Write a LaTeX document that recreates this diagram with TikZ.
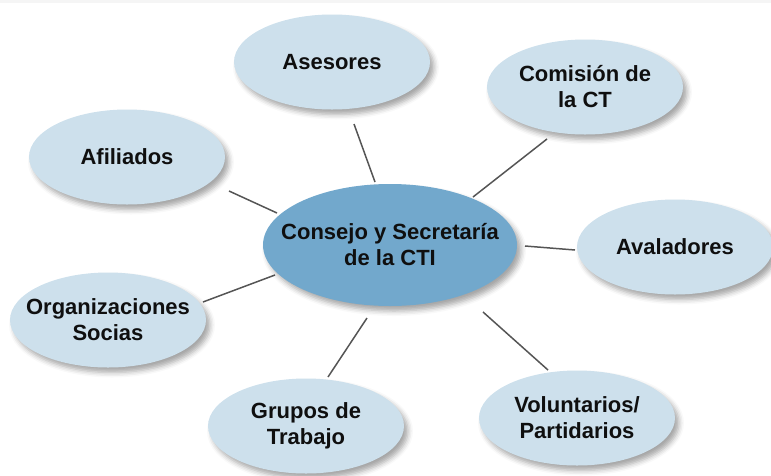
\documentclass[tikz,border=0pt]{standalone}
\usepackage{fontspec}
\setmainfont{Liberation Sans}
\usetikzlibrary{shapes.geometric,shadows.blur,backgrounds}
\definecolor{outerfill}{RGB}{205,224,236}
\definecolor{centerfill}{RGB}{114,168,204}
\definecolor{linegray}{RGB}{85,85,85}
\definecolor{textblack}{RGB}{15,15,15}
\begin{document}
\begin{tikzpicture}[x=1pt,y=-1pt,
  bubble/.style={ellipse, fill=outerfill, minimum width=196pt, minimum height=95pt,
    inner sep=-60pt, align=center, text=textblack,
    font=\fontsize{22}{26}\selectfont\bfseries,
    blur shadow={shadow xshift=4pt, shadow yshift=-5pt, shadow blur radius=5pt, shadow opacity=35}},
  two/.style={yshift=-2pt},
  hub/.style={bubble, fill=centerfill, minimum width=254pt, minimum height=122pt},
  conn/.style={draw=linegray, line width=1.5pt}]
\useasboundingbox (0,0) rectangle (771,475);
\fill[gray!8] (0,0) rectangle (771,3);
\node[hub] (ctr) at (390,245) {Consejo y Secretaría\\de la CTI};
\node[bubble] (ase) at (332,62) {Asesores};
\node[bubble] (com) at (585,87) {Comisión de\\la CT};
\node[bubble] (afi) at (127,157) {Afiliados};
\node[bubble] (ava) at (675,247) {Avaladores};
\node[bubble] (org) at (108,320) {Organizaciones\\Socias};
\node[bubble] (gru) at (306,426) {Grupos de\\Trabajo};
\node[bubble] (vol) at (577,418) {Voluntarios/\\Partidarios};
\begin{scope}[on background layer]
\draw[conn] ([shift={(22,62)}]ase.center) -- ([shift={(-15,-63)}]ctr.center);
\draw[conn] ([shift={(-38,52)}]com.center) -- ([shift={(83,-48)}]ctr.center);
\draw[conn] ([shift={(102,34)}]afi.center) -- ([shift={(-113,-32)}]ctr.center);
\draw[conn] ([shift={(-100,3)}]ava.center) -- ([shift={(135,1)}]ctr.center);
\draw[conn] ([shift={(95,-18)}]org.center) -- ([shift={(-115,30)}]ctr.center);
\draw[conn] ([shift={(22,-49)}]gru.center) -- ([shift={(-23,73)}]ctr.center);
\draw[conn] ([shift={(-29,-48)}]vol.center) -- ([shift={(93,67)}]ctr.center);
\end{scope}
\end{tikzpicture}
\end{document}
